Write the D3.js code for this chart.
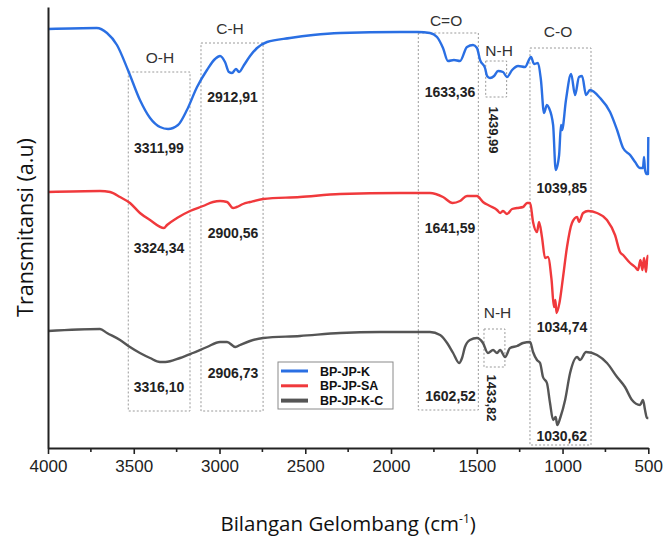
<!DOCTYPE html>
<html>
<head>
<meta charset="utf-8">
<script src="https://cdn.jsdelivr.net/npm/d3@7"></script>
<style>
  html, body { margin: 0; padding: 0; background: #fff; }
  svg { display: block; }
</style>
</head>
<body>
<svg id="chart" width="667" height="543"></svg>
<script>
// ---------------- DATA ----------------
const seriesNames = ["BP-JP-K", "BP-JP-SA", "BP-JP-K-C"];

// wavenumber (cm-1), transmittance (a.u., offset-stacked)
const seriesK = [
  [4000,419],[3716,420],[3656,415],[3598,403],[3534,378],[3464,348],[3405,330],[3347,321],
  [3300,319],[3242,323],[3190,338],[3131,361],[3073,378],[3026,389],[2997,392],[2968,386],
  [2945,376],[2927,375],[2904,379],[2886,376],[2857,383],[2822,392],[2781,400],[2723,406],
  [2589,410],[2455,413],[2297,415],[1948,416],[1843,416],[1773,415],[1732,411],[1697,400],
  [1668,387],[1633,388],[1598,387],[1557,401],[1522,403],[1499,400],[1481,388],[1452,380],
  [1440,372],[1423,370],[1399,372],[1376,377],[1347,376],[1324,371],[1294,378],[1259,382],
  [1219,381],[1184,391],[1166,384],[1143,385],[1126,368],[1108,335],[1091,343],[1079,340],
  [1055,323],[1040,278],[1020,293],[1009,323],[1003,318],[980,348],[950,374],[927,353],
  [904,371],[886,372],[863,353],[840,358],[781,350],[723,336],[682,318],[647,300],[606,293],
  [577,286],[548,280],[531,280],[525,291],[519,278],[510,274],[502,274],[500,311]
];
const seriesSA = [
  [4000,256],[3697,257],[3638,256],[3580,251],[3522,245],[3464,235],[3405,228],[3324,220],
  [3306,223],[3248,230],[3172,237],[3096,242],[3038,246],[2997,247],[2956,246],[2921,240],
  [2900,241],[2863,244],[2822,246],[2746,249],[2531,251],[2297,254],[1948,255],[1773,255],
  [1697,251],[1641,245],[1598,247],[1557,252],[1499,252],[1464,246],[1423,242],[1382,238],
  [1364,235],[1347,237],[1324,234],[1294,239],[1265,240],[1230,241],[1207,245],[1189,245],
  [1172,226],[1149,216],[1137,226],[1120,211],[1102,190],[1085,191],[1064,168],[1050,141],
  [1042,148],[1035,135],[1018,145],[997,171],[974,201],[945,225],[915,231],[904,226],
  [880,235],[851,237],[799,235],[741,228],[694,213],[665,196],[647,193],[606,185],[577,181],
  [560,178],[546,188],[534,178],[525,190],[513,176],[505,192],[500,192]
];
const seriesKC = [
  [4000,117],[3697,119],[3656,115],[3580,108],[3522,101],[3464,95],[3405,90],[3347,86],
  [3316,86],[3230,90],[3155,95],[3073,101],[2997,106],[2956,106],[2907,101],[2880,103],
  [2822,107],[2746,110],[2531,112],[2297,115],[2064,116],[1773,116],[1714,113],[1673,105],
  [1638,95],[1603,85],[1586,90],[1569,101],[1540,108],[1499,110],[1464,105],[1435,95],
  [1405,98],[1382,95],[1364,98],[1335,91],[1306,100],[1265,102],[1230,105],[1189,106],
  [1172,96],[1149,88],[1131,85],[1114,71],[1091,65],[1073,45],[1055,28],[1040,31],
  [1031,23],[1012,31],[985,48],[956,75],[915,91],[898,88],[863,96],[799,93],[741,85],
  [682,71],[636,61],[595,48],[548,43],[531,48],[519,38],[508,30],[500,30]
];

const xTickValues = [4000, 3500, 3000, 2500, 2000, 1500, 1000, 500];
const xMinorTicks = [3750, 3250, 2750, 2250, 1750, 1250, 750];

// group regions: label, wavenumber range, vertical span (a.u.), label anchor
const regionLabels = ["O-H", "C-H", "C=O", "N-H", "C-O", "N-H"];
const regionRanges = [[3532,3172],[3108,2746],[1841,1491],[1448,1326],[1190,834],[1458,1336]];
const regionSpans  = [[376,37],[405,37],[415,38],[387,351],[400,3],[119,81]];
const regionTextAt = [[3347,385],[2939,414],[1679,422],[1370,392],[1026,411],[1379,130]];

// peak labels
const peakTexts = ["3311,99","2912,91","1633,36","1039,85","3324,34","2900,56","1641,59","1034,74",
                   "3316,10","2906,73","1602,52","1030,62"];
const peakAt = [[3353,295],[2924,346],[1656,351],[1005,255],[3353,195],[2921,210],[1656,215],[1003,116],
                [3353,56],[2921,70],[1653,47],[1005,7]];
const rotPeakTexts = ["1439,99","1433,82"];
const rotPeakAt = [[1405,318],[1413,50]];

// ---------------- LAYOUT ----------------
const svg = d3.select("#chart");
const colors = ["#2a6fe3", "#f0393c", "#555555"];
const mLeft = 48, mRight = 648.3, mTop = 7, mBottom = 448;

const x = d3.scaleLinear().domain([4000, 500]).range([mLeft, mRight]);
const y = d3.scaleLinear().domain([0, 441]).range([mBottom, mTop]);

// dashed region boxes
regionRanges.forEach((r, i) => {
  const [t, b] = regionSpans[i];
  svg.append("rect")
    .attr("x", x(r[0])).attr("y", y(t))
    .attr("width", x(r[1]) - x(r[0])).attr("height", y(b) - y(t))
    .attr("fill", "none").attr("stroke", "#9a9a9a")
    .attr("stroke-width", 1).attr("stroke-dasharray", "2,2");
});

// curves
const line = d3.line().x(d => x(d[0])).y(d => y(d[1])).curve(d3.curveMonotoneX);
[seriesK, seriesSA, seriesKC].forEach((s, i) => {
  svg.append("path").datum(s)
    .attr("d", line)
    .attr("fill", "none")
    .attr("stroke", colors[i])
    .attr("stroke-width", 2.4)
    .attr("stroke-linejoin", "round");
});

// axes
const xAxis = d3.axisBottom(x).tickValues(xTickValues).tickSize(6).tickSizeOuter(0).tickPadding(6)
  .tickFormat(d3.format("d"));
const gx = svg.append("g").attr("transform", `translate(0,${mBottom})`).call(xAxis);
gx.select(".domain").attr("stroke", "#222").attr("stroke-width", 2);
gx.selectAll(".tick line").attr("stroke", "#222").attr("stroke-width", 1.6);
gx.selectAll(".tick text").attr("font-family", "Liberation Sans, Arial, sans-serif")
  .attr("font-size", 17).attr("fill", "#222");
const gm = svg.append("g").attr("transform", `translate(0,${mBottom})`);
gm.selectAll("line").data(xMinorTicks).enter().append("line")
  .attr("x1", d => x(d)).attr("x2", d => x(d)).attr("y1", 0).attr("y2", 4)
  .attr("stroke", "#222").attr("stroke-width", 1.6);

const yAxis = d3.axisLeft(y).tickValues([]).tickSizeOuter(0);
const gy = svg.append("g").attr("transform", `translate(${mLeft},0)`).call(yAxis);
gy.select(".domain").attr("stroke", "#222").attr("stroke-width", 2);

// region labels
regionLabels.forEach((t, i) => {
  svg.append("text")
    .attr("x", x(regionTextAt[i][0])).attr("y", y(regionTextAt[i][1]))
    .attr("text-anchor", "middle")
    .attr("font-family", "Liberation Sans, Arial, sans-serif")
    .attr("font-size", 15.5).attr("fill", "#333").text(t);
});

// peak labels
peakTexts.forEach((t, i) => {
  svg.append("text")
    .attr("x", x(peakAt[i][0])).attr("y", y(peakAt[i][1]))
    .attr("text-anchor", "middle")
    .attr("font-family", "Liberation Sans, Arial, sans-serif")
    .attr("font-weight", "bold")
    .attr("font-size", 14).attr("fill", "#222").text(t);
});
rotPeakTexts.forEach((t, i) => {
  const px = x(rotPeakAt[i][0]), py = y(rotPeakAt[i][1]);
  svg.append("text")
    .attr("transform", `translate(${px},${py}) rotate(90)`)
    .attr("text-anchor", "middle").attr("dominant-baseline", "central")
    .attr("font-family", "Liberation Sans, Arial, sans-serif")
    .attr("font-weight", "bold")
    .attr("font-size", 13).attr("fill", "#222").text(t);
});

// legend
const lg = svg.append("g").attr("transform", "translate(278,362)");
lg.append("rect").attr("width", 115).attr("height", 47)
  .attr("fill", "#fff").attr("stroke", "#8a8a8a").attr("stroke-width", 1);
seriesNames.forEach((n, i) => {
  const yy = 9 + i * 14.8;
  lg.append("line").attr("x1", 3).attr("x2", 30).attr("y1", yy).attr("y2", yy)
    .attr("stroke", colors[i]).attr("stroke-width", i === 2 ? 4 : 3);
  lg.append("text").attr("x", 42).attr("y", yy).attr("dy", "0.36em")
    .attr("font-family", "Liberation Sans, Arial, sans-serif")
    .attr("font-weight", "bold").attr("font-size", 12.5).attr("fill", "#111").text(n);
});

// axis titles
const xt = svg.append("text")
  .attr("x", (mLeft + mRight) / 2).attr("y", 531)
  .attr("text-anchor", "middle")
  .attr("font-family", "Open Sans, sans-serif")
  .attr("font-size", 20.5).attr("fill", "#111");
xt.append("tspan").text("Bilangan Gelombang (cm");
xt.append("tspan").attr("dy", -8).attr("font-size", 12).text("-1");
xt.append("tspan").attr("dy", 8).text(")");

svg.append("text")
  .attr("transform", `translate(24,${(mTop + mBottom) / 2}) rotate(-90)`)
  .attr("text-anchor", "middle").attr("dominant-baseline", "central")
  .attr("font-family", "Open Sans, sans-serif")
  .attr("font-size", 21.5).attr("fill", "#111")
  .text("Transmitansi (a.u)");
</script>
</body>
</html>
